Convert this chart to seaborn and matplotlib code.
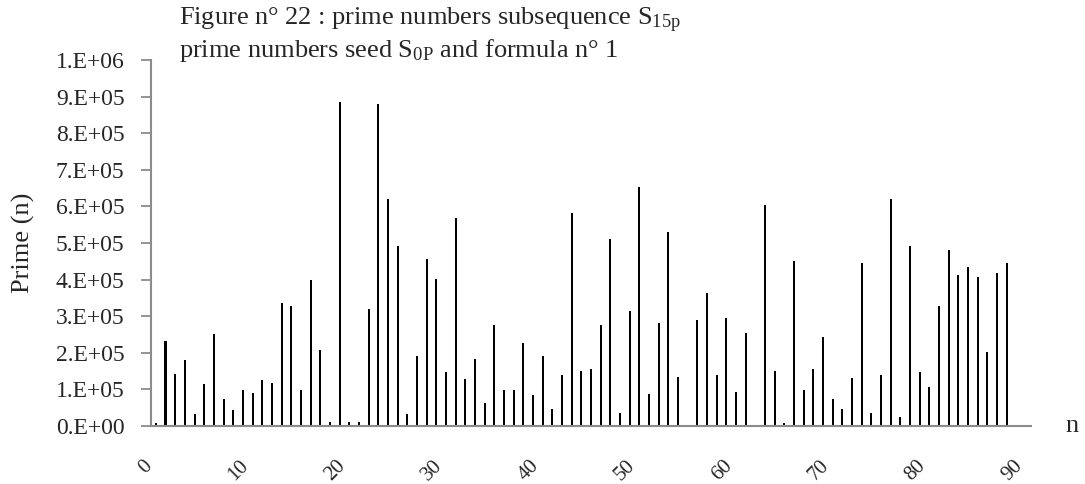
import numpy as np
import pandas as pd
import matplotlib
matplotlib.use("Agg")
import matplotlib.pyplot as plt
import seaborn as sns

# Index n of the subsequence and the prime found at each index
n_values = list(range(89))
primes = [
    9e3, 231e3, 143e3, 179e3, 34e3, 114e3, 252e3, 73e3, 45e3, 97e3,
    90e3, 127e3, 118e3, 337e3, 327e3, 99e3, 398e3, 208e3, 11e3, 886e3,
    11e3, 10e3, 319e3, 880e3, 621e3, 492e3, 33e3, 190e3, 455e3, 401e3,
    148e3, 568e3, 129e3, 183e3, 64e3, 275e3, 98e3, 98e3, 227e3, 85e3,
    191e3, 47e3, 138e3, 583e3, 151e3, 156e3, 276e3, 510e3, 35e3, 313e3,
    652e3, 88e3, 281e3, 529e3, 135e3, 3e3, 289e3, 363e3, 139e3, 296e3,
    92e3, 254e3, 0, 603e3, 150e3, 8e3, 450e3, 98e3, 157e3, 243e3,
    75e3, 46e3, 130e3, 445e3, 35e3, 139e3, 621e3, 24e3, 492e3, 148e3,
    107e3, 328e3, 480e3, 413e3, 434e3, 406e3, 202e3, 417e3, 444e3,
]
# Category axis runs from 0 to 90
category_order = list(range(91))
x_tick_values = list(range(0, 91, 10))
x_tick_labels = [str(v) for v in x_tick_values]
y_ticks = [0, 1e5, 2e5, 3e5, 4e5, 5e5, 6e5, 7e5, 8e5, 9e5, 1e6]
y_tick_labels = ["0.E+00", "1.E+05", "2.E+05", "3.E+05", "4.E+05", "5.E+05",
                 "6.E+05", "7.E+05", "8.E+05", "9.E+05", "1.E+06"]

df = pd.DataFrame({"n": n_values, "prime": primes})

sns.set_theme(style="white")
plt.rcParams["font.family"] = ["Liberation Serif", "DejaVu Serif"]
plt.rcParams["mathtext.fontset"] = "custom"
plt.rcParams["mathtext.rm"] = "Liberation Serif"
plt.rcParams["mathtext.it"] = "Liberation Serif:italic"

W, H = 1085, 484
fig = plt.figure(figsize=(W / 100, H / 100), dpi=100)
ax_left, ax_right, ax_top, ax_bottom = 151, 1031, 60, 426
ax = fig.add_axes([ax_left / W, 1 - ax_bottom / H,
                   (ax_right - ax_left) / W, (ax_bottom - ax_top) / H])

sns.barplot(data=df, x="n", y="prime", order=category_order, color="black",
            width=0.21, errorbar=None, ax=ax, saturation=1, linewidth=0)

axis_grey = "#8c8c8c"
ax.set_ylim(0, 1.0e6)
ax.set_xlim(-0.5, 90.5)
ax.set_yticks(y_ticks)
ax.set_yticklabels(y_tick_labels, fontsize=17)
ax.set_xticks(x_tick_values)
ax.set_xticklabels(x_tick_labels, fontsize=15, rotation=45, ha="right", va="top")
ax.tick_params(axis="x", length=0, pad=22)
ax.tick_params(axis="y", length=7, width=1.3, color=axis_grey, pad=12, left=True)

for side in ("top", "right"):
    ax.spines[side].set_visible(False)
for side in ("left", "bottom"):
    ax.spines[side].set_color(axis_grey)
    ax.spines[side].set_linewidth(1.5)

span_w = ax_right - ax_left
ax.set_ylabel("Prime (n)", fontsize=19)
ax.yaxis.set_label_coords(-(ax_left - 23) / span_w, 0.5)
ax.yaxis.label.set_va("center")
ax.set_xlabel("n", fontsize=19)
ax.xaxis.set_label_coords((1072 - ax_left) / span_w, 0.0)
ax.xaxis.label.set_va("center")

fig.text(179 / W, 1 - 20 / H, r"Figure n° 22 : prime numbers subsequence S$_{\mathrm{15p}}$",
         fontsize=19, ha="left", va="center")
fig.text(179 / W, 1 - 50 / H, r"prime numbers seed S$_{\mathrm{0P}}$ and formula n° 1",
         fontsize=19, ha="left", va="center")

fig.savefig("out.png", dpi=100, facecolor="white")
